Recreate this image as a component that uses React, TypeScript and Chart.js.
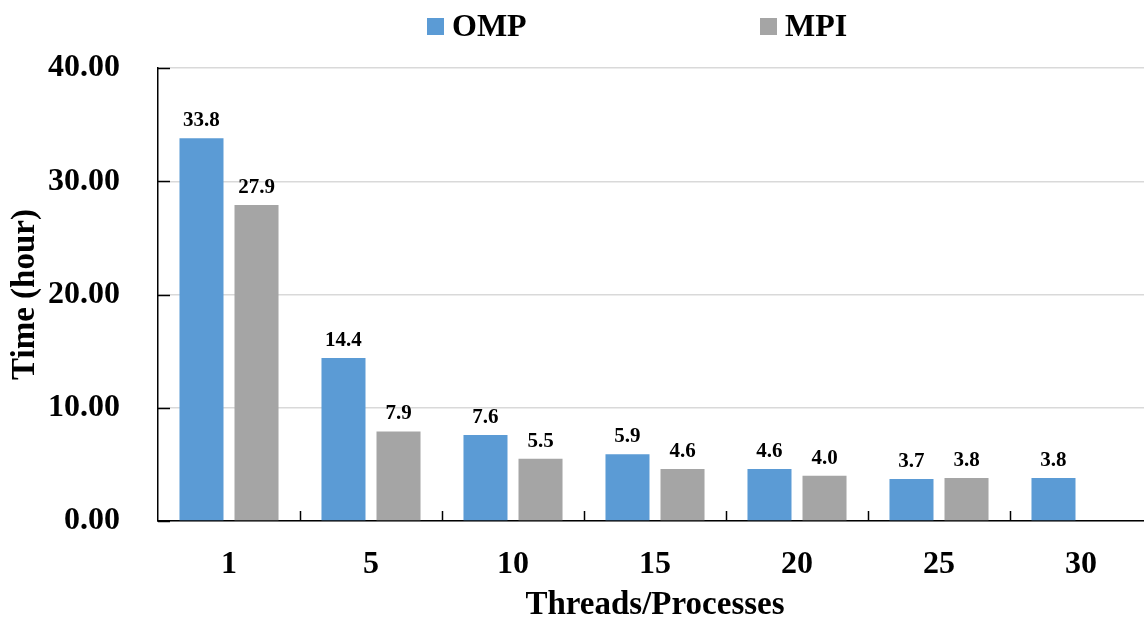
import React, { useEffect, useRef } from "react";
import { Chart, registerables } from "chart.js";

Chart.register(...registerables);

const categories = ["1", "5", "10", "15", "20", "25", "30"];
const ompValues: (number | null)[] = [33.8, 14.4, 7.6, 5.9, 4.6, 3.7, 3.8];
const mpiValues: (number | null)[] = [27.9, 7.9, 5.5, 4.6, 4.0, 3.8, null];
const seriesNames = ["OMP", "MPI"];
const seriesColors = ["#5B9BD5", "#A5A5A5"];
const yTicks = [0, 10, 20, 30, 40];

const FONT = "'Liberation Serif', 'Times New Roman', serif";

const decorPlugin = {
  id: "decor",
  afterDraw(chart: any) {
    const ctx = chart.ctx;
    const { left, right, bottom } = chart.chartArea;
    const yScale = chart.scales.y;
    ctx.save();
    ctx.strokeStyle = "#000";
    ctx.lineWidth = 1.5;
    // y tick marks inside
    yTicks.forEach((v) => {
      const y = Math.round(yScale.getPixelForValue(v)) + 0.5;
      ctx.beginPath();
      ctx.moveTo(left, y);
      ctx.lineTo(left + 12, y);
      ctx.stroke();
    });
    // x tick marks at category boundaries
    const n = categories.length;
    const w = (right - left) / n;
    for (let i = 1; i <= n; i++) {
      const x = Math.round(left + i * w) + 0.5;
      ctx.beginPath();
      ctx.moveTo(x, bottom);
      ctx.lineTo(x, bottom - 10);
      ctx.stroke();
    }
    // data labels
    ctx.fillStyle = "#000";
    ctx.font = `bold 21px ${FONT}`;
    ctx.textAlign = "center";
    ctx.textBaseline = "bottom";
    chart.data.datasets.forEach((ds: any, di: number) => {
      const meta = chart.getDatasetMeta(di);
      meta.data.forEach((el: any, i: number) => {
        const v = ds.data[i];
        if (v === null || v === undefined) return;
        ctx.fillText(v.toFixed(1), el.x, el.y - 7);
      });
    });
    // legend
    const legendX = [427, 760];
    ctx.font = `bold 32px ${FONT}`;
    ctx.textAlign = "left";
    ctx.textBaseline = "middle";
    chart.data.datasets.forEach((ds: any, di: number) => {
      const x = legendX[di];
      ctx.fillStyle = ds.backgroundColor;
      ctx.fillRect(x, 18, 17, 17);
      ctx.fillStyle = "#000";
      ctx.fillText(ds.label, x + 25, 28);
    });
    ctx.restore();
  },
};

export default function App() {
  const ref = useRef<HTMLCanvasElement>(null);
  useEffect(() => {
    if (!ref.current) return;
    const chart = new Chart(ref.current, {
      type: "bar",
      data: {
        labels: categories,
        datasets: [
          {
            label: seriesNames[0],
            data: ompValues,
            backgroundColor: seriesColors[0],
            categoryPercentage: 0.775,
            barPercentage: 0.8,
          },
          {
            label: seriesNames[1],
            data: mpiValues,
            backgroundColor: seriesColors[1],
            categoryPercentage: 0.775,
            barPercentage: 0.8,
          },
        ],
      },
      options: {
        responsive: false,
        animation: false,
        layout: { padding: { top: 68, right: 8, left: 0, bottom: 0 } },
        plugins: {
          legend: { display: false },
          tooltip: { enabled: false },
        },
        scales: {
          x: {
            grid: { display: false, drawTicks: false },
            border: { display: true, color: "#000", width: 1.5 },
            ticks: {
              color: "#000",
              font: { family: FONT, size: 32, weight: "bold" },
              padding: 25,
            },
            title: {
              display: true,
              text: "Threads/Processes",
              color: "#000",
              font: { family: FONT, size: 33, weight: "bold", lineHeight: 1 },
              padding: { top: 0, bottom: -4 },
            },
            afterFit: (s: any) => {
              s.height = 97;
            },
          },
          y: {
            min: 0,
            max: 40,
            grid: { color: "#d9d9d9", lineWidth: 1.5, drawTicks: false },
            border: { display: true, color: "#000", width: 1.5 },
            ticks: {
              stepSize: 10,
              color: "#000",
              font: { family: FONT, size: 32, weight: "bold" },
              padding: 38,
              callback: (v: any) => Number(v).toFixed(2),
            },
            title: {
              display: true,
              text: "Time (hour)",
              color: "#000",
              font: { family: FONT, size: 33, weight: "bold", lineHeight: 1.2 },
              padding: { top: 6, bottom: 0 },
            },
            afterFit: (s: any) => {
              s.width = 158;
            },
          },
        },
      },
      plugins: [decorPlugin],
    });
    return () => chart.destroy();
  }, []);
  return (
    <div
      style={{
        position: "fixed",
        left: 0,
        top: 0,
        width: 1144,
        height: 618,
        overflow: "hidden",
        background: "#fff",
      }}
    >
      <canvas ref={ref} width={1160} height={618} style={{ display: "block" }} />
    </div>
  );
}
